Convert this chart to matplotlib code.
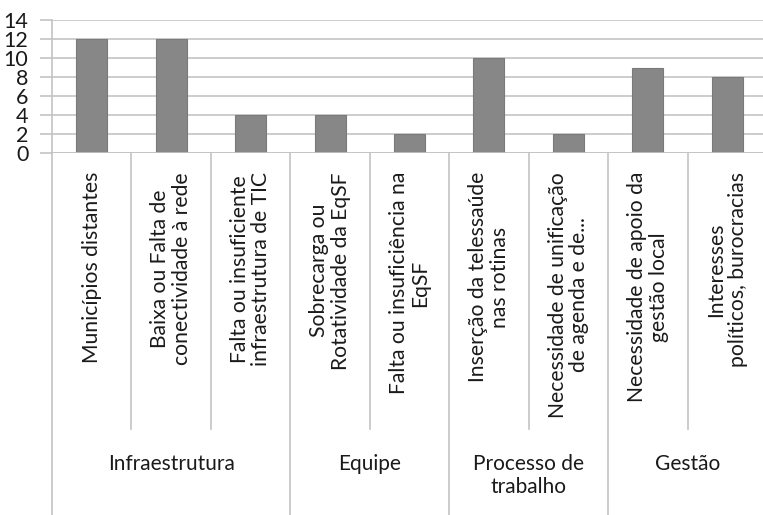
import matplotlib.pyplot as plt
import matplotlib.transforms as mtransforms

plt.rcParams['font.family'] = ['Lato', 'DejaVu Sans']

labels = [
    "Municípios distantes",
    "Baixa ou Falta de\nconectividade à rede",
    "Falta ou insuficiente\ninfraestrutura de TIC",
    "Sobrecarga ou\nRotatividade da EqSF",
    "Falta ou insuficiência na\nEqSF",
    "Inserção da telessaúde\nnas rotinas",
    "Necessidade de unificação\nde agenda e de...",
    "Necessidade de apoio da\ngestão local",
    "Interesses\npolíticos, burocracias",
]
values = [12, 12, 4, 4, 2, 10, 2, 9, 8]
groups = ["Infraestrutura", "Equipe", "Processo de\ntrabalho", "Gestão"]
group_sizes = [3, 2, 2, 2]

W, H = 763, 515
fig = plt.figure(figsize=(W / 100, H / 100), dpi=100)
ax = fig.add_axes([52 / W, (H - 153) / H, (767 - 52) / W, (153 - 20) / H])

x = list(range(len(values)))
ax.bar(x, values, width=0.39, color="#878787", edgecolor="#7a7a7a", linewidth=0.8, zorder=3)
ax.set_xlim(-0.5, len(values) - 0.5)
ax.set_ylim(0, 14)
ax.set_yticks(range(0, 15, 2))
ax.yaxis.grid(True, color="#c4c4c4", linewidth=1.2, zorder=0)
ax.tick_params(axis="y", length=9, color="#c4c4c4", width=1.2, labelsize=15.5, pad=8, labelcolor="#1a1a1a")
ax.set_xticks([])
for side in ["top", "right", "bottom"]:
    ax.spines[side].set_visible(False)
ax.spines["left"].set_color("#c4c4c4")
ax.spines["left"].set_linewidth(1.2)
ax.axhline(0, color="#c4c4c4", linewidth=1.2, zorder=4)

# multi-level category axis
tr = mtransforms.blended_transform_factory(ax.transData, fig.transFigure)
y_axis = (H - 153) / H
y_sub = (H - 429) / H
for i, lab in enumerate(labels):
    ax.text(i, (H - 172) / H, lab, rotation=90, ha="center", va="top",
            multialignment="center", fontsize=15.2, color="#1a1a1a",
            transform=tr, linespacing=1.1)

bounds = [-0.5]
for n in group_sizes:
    bounds.append(bounds[-1] + n)
for b in bounds:
    ax.plot([b, b], [y_axis, 0], transform=tr, color="#c4c4c4", lw=1.2, clip_on=False)
for i in range(len(values) - 1):
    b = i + 0.5
    if b not in bounds:
        ax.plot([b, b], [y_axis, y_sub], transform=tr, color="#c4c4c4", lw=1.2, clip_on=False)
for g, lo, hi in zip(groups, bounds[:-1], bounds[1:]):
    ax.text((lo + hi) / 2, (H - 454) / H, g, ha="center", va="top",
            multialignment="center", fontsize=15, color="#1a1a1a",
            transform=tr, linespacing=1.2)

fig.savefig("out.png", dpi=100)
